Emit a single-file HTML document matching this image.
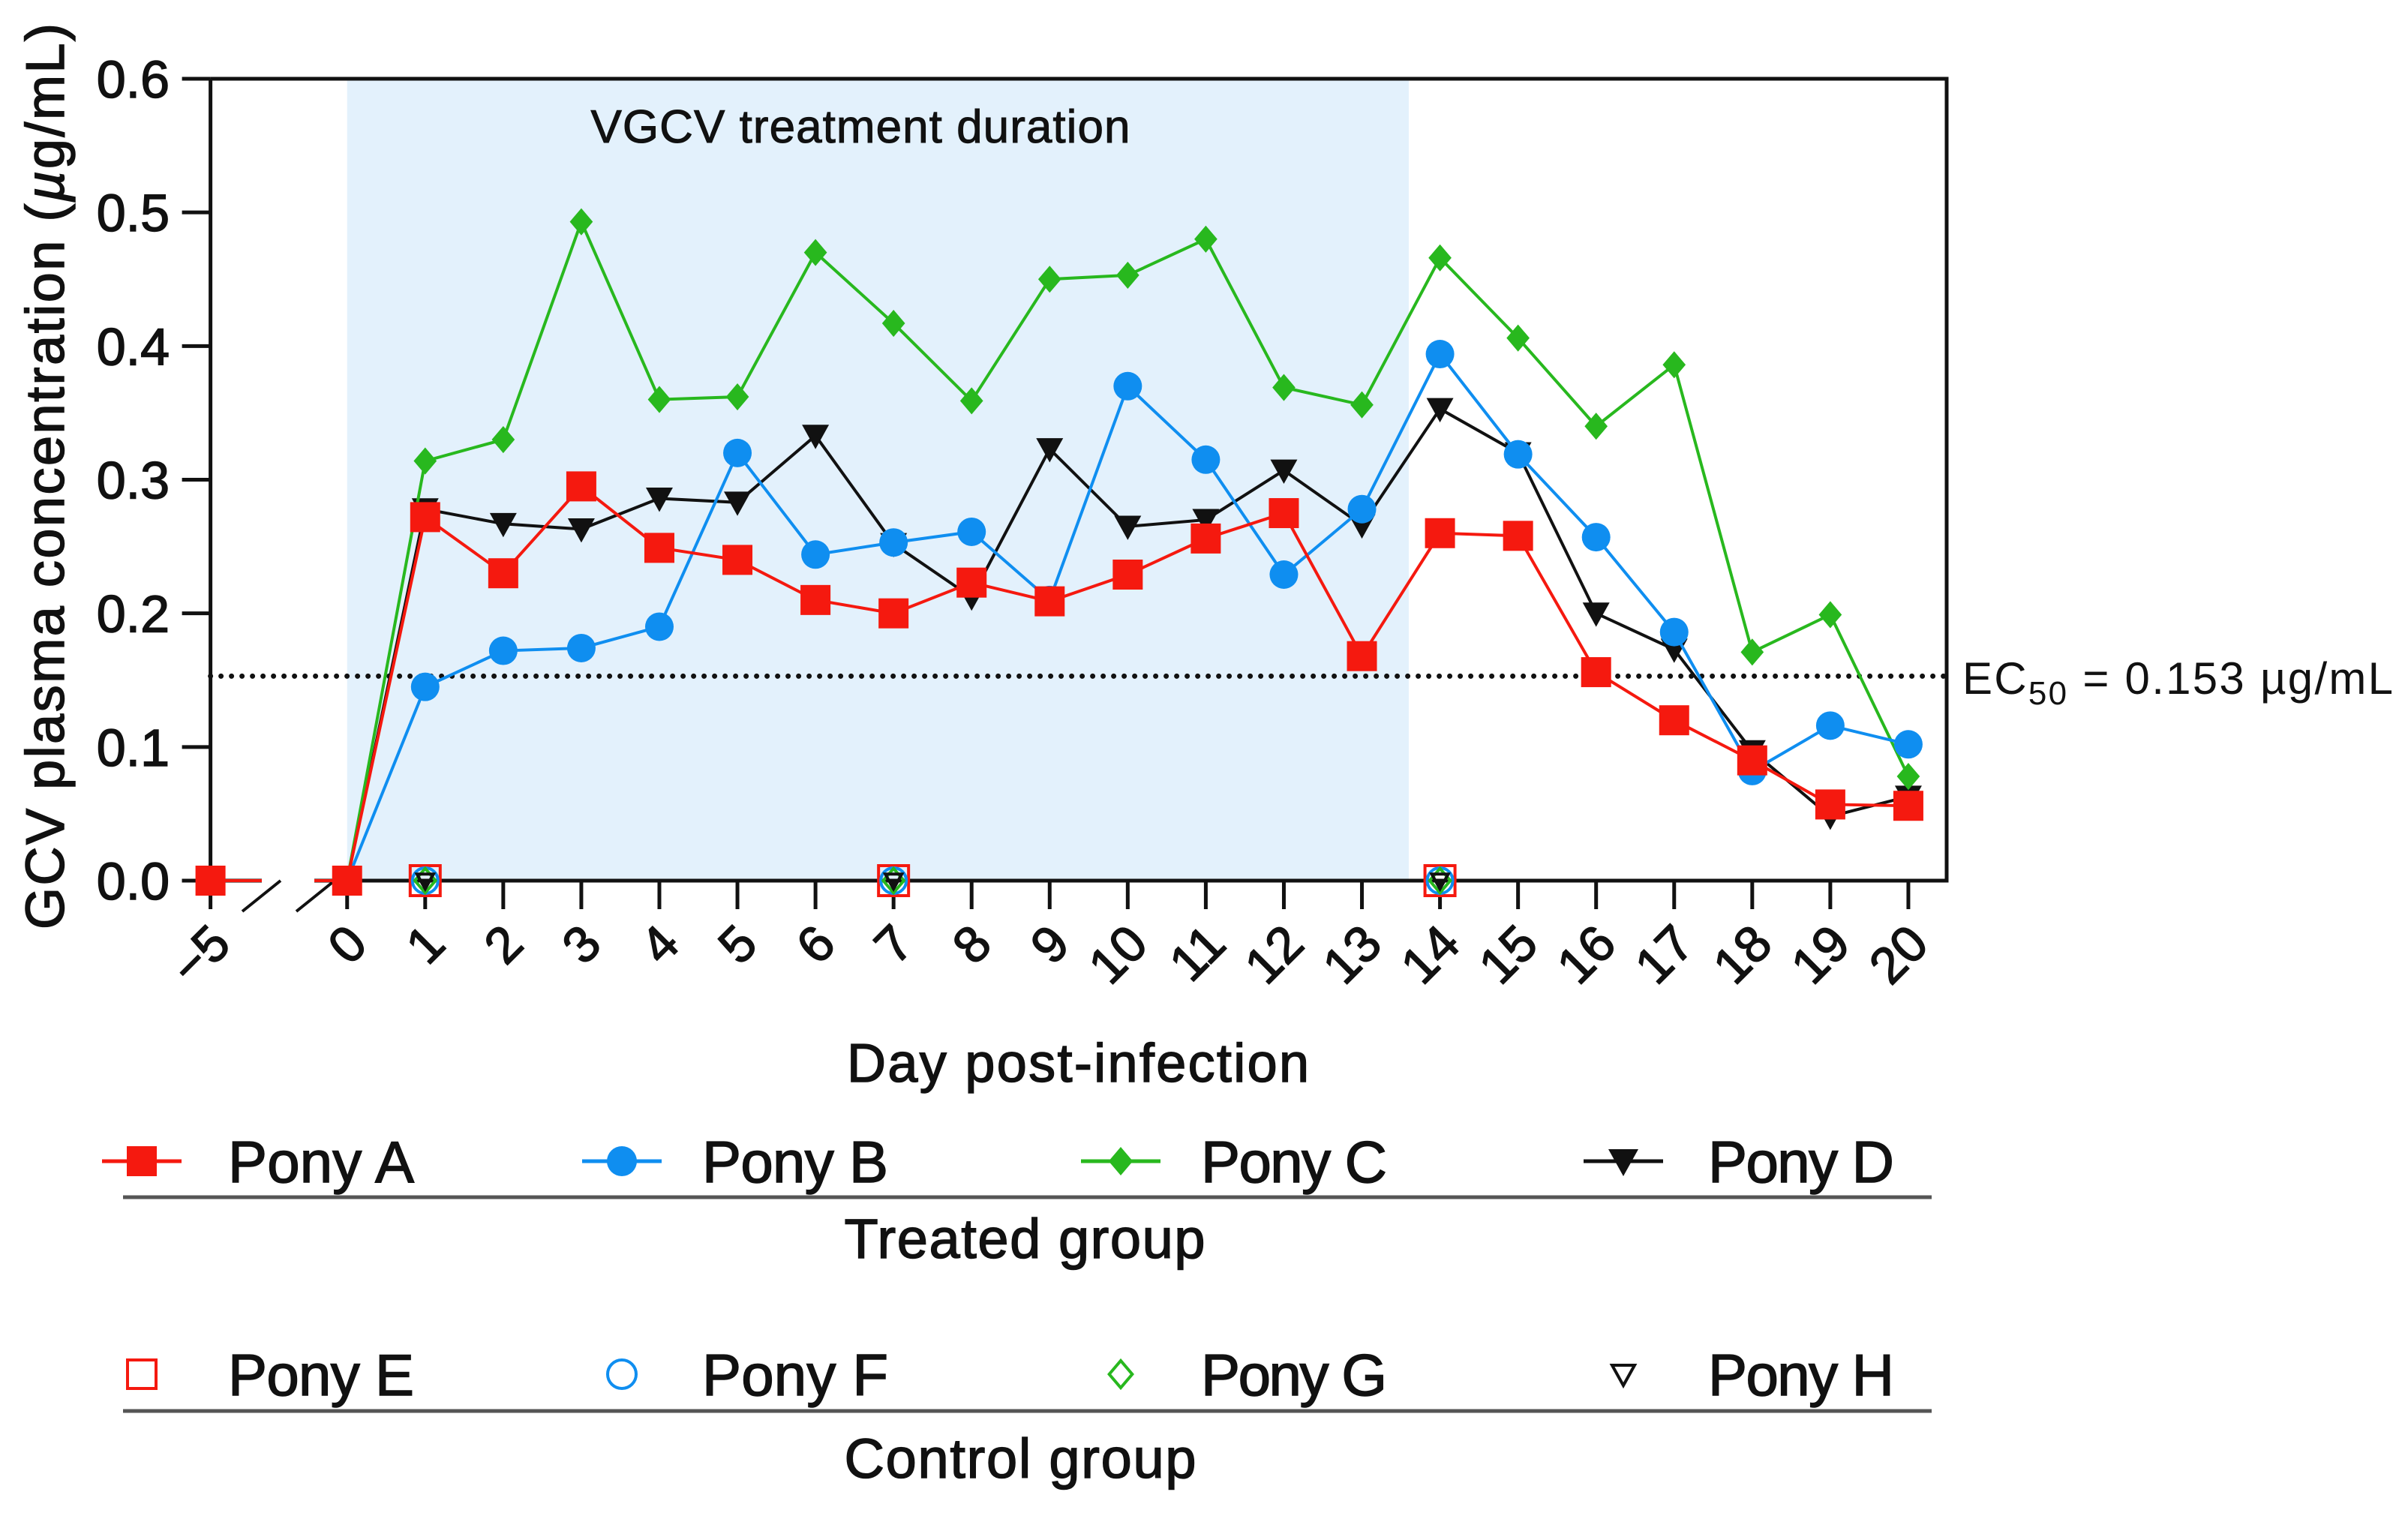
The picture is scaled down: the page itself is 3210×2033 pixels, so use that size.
<!DOCTYPE html>
<html><head><meta charset="utf-8"><style>
html,body{margin:0;padding:0;background:#fff;}
svg{display:block;font-family:"Liberation Sans",Arial,sans-serif;}
</style></head><body>
<svg id="chart" width="3210" height="2033" viewBox="0 0 3210 2033" xmlns="http://www.w3.org/2000/svg">
<g id="plot"></g>
</svg>
<script>
const days = [-5,0,1,2,3,4,5,6,7,8,9,10,11,12,13,14,15,16,17,18,19,20];
const ponyA = [0,0,0.272,0.230,0.295,0.249,0.240,0.210,0.200,0.223,0.209,0.229,0.256,0.275,0.168,0.260,0.258,0.156,0.120,0.090,0.057,0.056];
const ponyB = [null,0,0.145,0.172,0.174,0.190,0.320,0.244,0.253,0.261,0.210,0.370,0.315,0.229,0.278,0.394,0.319,0.257,0.186,0.082,0.116,0.102];
const ponyC = [null,0,0.314,0.330,0.493,0.360,0.362,0.470,0.417,0.359,0.450,0.453,0.480,0.369,0.356,0.466,0.406,0.340,0.386,0.171,0.199,0.078];
const ponyD = [null,0,0.278,0.267,0.263,0.286,0.283,0.333,0.252,0.212,0.323,0.265,0.270,0.307,0.266,0.353,0.320,0.200,0.173,0.097,0.048,0.063];
const controlDays = [1,7,14];
const controlValues = [0,0,0];
const yTicks = [0,0.1,0.2,0.3,0.4,0.5,0.6];
const yTickLabels = ["0.0","0.1","0.2","0.3","0.4","0.5","0.6"];
const xTickLabels = ["\u22125","0","1","2","3","4","5","6","7","8","9","10","11","12","13","14","15","16","17","18","19","20"];
const ec50 = 0.153;
const treatStart = 0, treatEnd = 13.6;

const NS="http://www.w3.org/2000/svg";
const g=document.getElementById('plot');
const X0=280.6, Y0=1174, Ytop=105, Xright=2595;
function xs(d){ return d<0 ? X0 : 566.8+(d-1)*104.06; }
function ys(v){ return Y0 - v/0.6*(Y0-Ytop); }
function mk(tag,attrs,parent){const e=document.createElementNS(NS,tag);for(const k in attrs)e.setAttribute(k,attrs[k]);(parent||g).appendChild(e);return e;}

let r=mk('rect',{x:xs(treatStart),y:Ytop,width:xs(treatEnd)-xs(treatStart),height:Y0-Ytop,fill:'#e3f1fc'});


let t=mk('text',{x:1147,y:190,'font-size':62,'text-anchor':'middle',textLength:719,fill:'#111','stroke':'#111','stroke-width':1});t.textContent='VGCV treatment duration';



let ax=mk('path',{d:`M${X0} ${Ytop}V${Y0}M${X0-38} ${Y0}H349M419 ${Y0}H${Xright}V${Ytop}H${X0}`,stroke:'#111','stroke-width':5,fill:'none'});


mk('path',{d:'M323 1215L374 1174M395 1215L446 1174',stroke:'#111','stroke-width':4,fill:'none'});
yTicks.forEach((v,i)=>{
  const y=ys(v);
  mk('line',{x1:X0-38,x2:X0,y1:y,y2:y,stroke:'#111','stroke-width':5});
  const tx=mk('text',{x:226,y:y+25,'font-size':70,'text-anchor':'end',fill:'#111','stroke':'#111','stroke-width':1.5});tx.textContent=yTickLabels[i];
  
  
});
days.forEach((d,i)=>{
  const x=xs(d);
  mk('line',{x1:x,x2:x,y1:Y0,y2:1212,stroke:'#111','stroke-width':5});
  const lx=x+30, ly=1262;
  const tx=mk('text',{x:lx,y:ly,'font-size':68,'text-anchor':'end',fill:'#111','stroke':'#111','stroke-width':1.5,transform:`rotate(-45 ${lx} ${ly})`});tx.textContent=xTickLabels[i];
  
  
});
let yt=mk('text',{x:0,y:0,'font-size':72,'text-anchor':'middle',fill:'#111','stroke':'#111','stroke-width':1.5,transform:'translate(85 635) rotate(-90)',textLength:1208});
yt.innerHTML='GCV plasma concentration (<tspan font-style="italic">\u00b5</tspan>g/mL)';


let xt=mk('text',{x:1437,y:1442,'font-size':72,'text-anchor':'middle',textLength:616,fill:'#111','stroke':'#111','stroke-width':1.5});xt.textContent='Day post-infection';



let ec=mk('line',{x1:X0,x2:Xright,y1:ys(ec50),y2:ys(ec50),stroke:'#111','stroke-width':7,'stroke-dasharray':'0 14','stroke-linecap':'round'});


let et=mk('text',{x:2616,y:925,'font-size':60,fill:'#111',textLength:574});et.innerHTML='EC<tspan font-size="44" dy="14">50</tspan><tspan dy="-14"> = 0.153 \u00b5g/mL</tspan>';



function marker(type,x,y,color,filled,size,parent){
  const s=size||38, h=s/2, fill=filled?color:'none', sw=filled?0:4;
  let e;
  if(type==='square') e=mk('rect',{x:x-h,y:y-h,width:s,height:s,fill:fill,stroke:color,'stroke-width':sw},parent);
  else if(type==='circle') e=mk('circle',{cx:x,cy:y,r:h,fill:fill,stroke:color,'stroke-width':sw},parent);
  else if(type==='diamond'){const d=h*0.95;e=mk('path',{d:`M${x} ${y-d}L${x+d*0.85} ${y}L${x} ${y+d}L${x-d*0.85} ${y}Z`,fill:fill,stroke:color,'stroke-width':sw},parent);}
  else {const d=h;e=mk('path',{d:`M${x-d} ${y-d*0.8}L${x+d} ${y-d*0.8}L${x} ${y+d}Z`,fill:fill,stroke:color,'stroke-width':sw},parent);}
  return e;
}
const series=[
  {name:'pony-d',vals:ponyD,color:'#111111',type:'triangle',size:36},
  {name:'pony-c',vals:ponyC,color:'#28b81e',type:'diamond',size:38},
  {name:'pony-b',vals:ponyB,color:'#0f8ef0',type:'circle',size:38},
  {name:'pony-a',vals:ponyA,color:'#f5190f',type:'square',size:40}
];
series.forEach(s=>{
  const grp=mk('g',{});
  
  
  let d='';
  days.forEach((day,i)=>{const v=s.vals[i];if(v===null)return;if(day<0)return;d+=(d?'L':'M')+xs(day)+' '+ys(v);});
  mk('path',{d:d,stroke:s.color,'stroke-width':4,fill:'none'},grp);
  if(s.vals[0]!==null) mk('path',{d:`M${xs(-5)} ${ys(s.vals[0])}H349M419 ${ys(s.vals[1])}H${xs(0)}`,stroke:s.color,'stroke-width':4,fill:'none'},grp);
  days.forEach((day,i)=>{const v=s.vals[i];if(v===null)return;
    const m=marker(s.type,xs(day),ys(v),s.color,true,s.size,grp);
    
    
  });
});
const controls=[['pony-e','#f5190f','square'],['pony-f','#0f8ef0','circle'],['pony-g','#28b81e','diamond'],['pony-h','#111','triangle']];
controls.forEach(c=>{
  controlDays.forEach((day,i)=>{
    const m=marker(c[2],xs(day),ys(controlValues[i]),c[1],false,c[2]==='square'?40:(c[2]==='triangle'?22:34));
    
    
  });
});

const legA=[['Pony A',189,304,'#f5190f','square'],['Pony B',829,936,'#0f8ef0','circle'],['Pony C',1494,1601,'#28b81e','diamond'],['Pony D',2164,2277,'#111','triangle']];
const legB=[['Pony E',189,304,'#f5190f','square'],['Pony F',829,936,'#0f8ef0','circle'],['Pony G',1494,1601,'#28b81e','diamond'],['Pony H',2164,2277,'#111','triangle']];
legA.forEach(l=>{
  const grp=mk('g',{});
  
  
  mk('line',{x1:l[1]-53,x2:l[1]+53,y1:1548,y2:1548,stroke:l[3],'stroke-width':5},grp);
  marker(l[4],l[1],1548,l[3],true,40,grp);
  const tx=mk('text',{x:l[2],y:1576,'font-size':78,textLength:248,fill:'#111','stroke':'#111','stroke-width':1.5},grp);tx.textContent=l[0];
});
legB.forEach(l=>{
  const grp=mk('g',{});
  
  
  marker(l[4],l[1],1832,l[3],false,l[4]==='triangle'?30:38,grp);
  const tx=mk('text',{x:l[2],y:1860,'font-size':78,textLength:248,fill:'#111','stroke':'#111','stroke-width':1.5},grp);tx.textContent=l[0];
});
[1596,1881].forEach(y=>mk('line',{x1:164,x2:2575,y1:y,y2:y,stroke:'#555','stroke-width':5}));
let tg=mk('text',{x:1366,y:1677,'font-size':74,'text-anchor':'middle',textLength:481,fill:'#111','stroke':'#111','stroke-width':1.5});tg.textContent='Treated group';


let cg=mk('text',{x:1360,y:1970,'font-size':74,'text-anchor':'middle',textLength:469,fill:'#111','stroke':'#111','stroke-width':1.5});cg.textContent='Control group';


</script>
</body></html>
